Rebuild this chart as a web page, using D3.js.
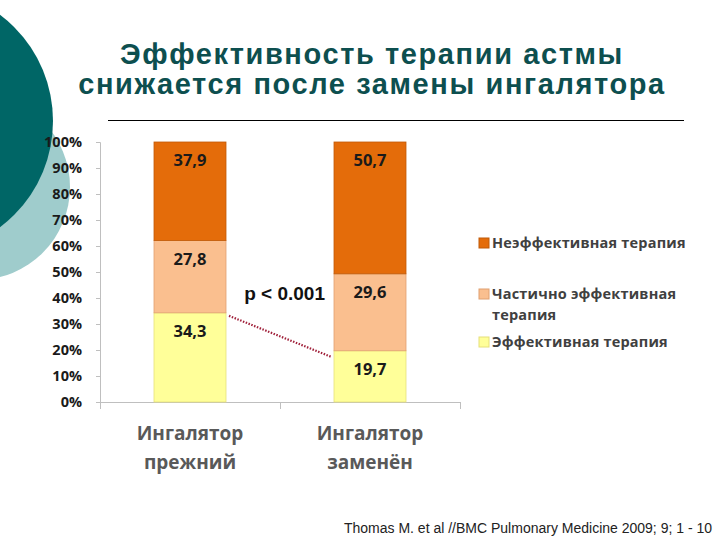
<!DOCTYPE html>
<html>
<head>
<meta charset="utf-8">
<script src="https://cdn.jsdelivr.net/npm/d3@7"></script>
<style>
  body { margin: 0; background: #fff; }
  svg { display: block; }
  .tick text { font-family: "Open Sans", "Noto Sans", sans-serif; font-weight: bold; }
</style>
</head>
<body>
<svg id="chart" width="720" height="540"></svg>
<script>
// Chart data
var categories = ['Ингалятор прежний', 'Ингалятор заменён'];
var categoryLines = [['Ингалятор', 'прежний'], ['Ингалятор', 'заменён']];
var seriesNames = ['Эффективная терапия', 'Частично эффективная терапия', 'Неэффективная терапия'];
var effective = [34.3, 19.7];
var partial = [27.8, 29.6];
var ineffective = [37.9, 50.7];
var yTicks = [0, 10, 20, 30, 40, 50, 60, 70, 80, 90, 100];

var colors = ['#ffff99', '#fabf8f', '#e46c0a'],
    strokes = ['#e6e07a', '#e0a070', '#c05a08'];

var svg = d3.select('#chart');

// Decorative circles at the left
svg.append('circle')
    .attr('cx', -23).attr('cy', 187).attr('r', 93)
    .style('fill', '#9fcccc');
svg.append('circle')
    .attr('cx', -80).attr('cy', 121).attr('r', 133)
    .style('fill', '#006666');

// Title
var title = svg.append('text')
    .attr('text-anchor', 'middle')
    .style('font-family', '"Liberation Sans", Arial, sans-serif')
    .style('font-weight', 'bold')
    .style('font-size', '29px')
    .style('letter-spacing', '1.6px')
    .style('fill', '#0d4f4f');
title.append('tspan').attr('x', 372).attr('y', 64).text('Эффективность терапии астмы');
title.append('tspan').attr('x', 372).attr('y', 94).text('снижается после замены ингалятора');

svg.append('line')
    .attr('x1', 108).attr('x2', 684)
    .attr('y1', 120.5).attr('y2', 120.5)
    .style('stroke', '#000').style('stroke-width', 1);

// Scales
var x = d3.scaleBand()
    .domain(categories)
    .range([100, 460])
    .paddingInner(0.6)
    .paddingOuter(0.3);

var y = d3.scaleLinear()
    .domain([0, 100])
    .range([402, 142]);

// Y axis
var yAxis = svg.append('g')
    .attr('transform', 'translate(100,0)')
    .call(d3.axisLeft(y).tickValues(yTicks).tickSize(4).tickPadding(14)
      .tickFormat(function(d){ return d + '%'; }));
yAxis.select('.domain').style('stroke', '#bfbfbf');
yAxis.selectAll('.tick line').style('stroke', '#bfbfbf');
yAxis.selectAll('.tick text').style('font-size', '14.5px').style('fill', '#1a1a1a');

// X axis baseline with ticks at band edges
var edges = [100, 280, 460];
svg.append('line')
    .attr('x1', 100).attr('x2', 460)
    .attr('y1', 402.5).attr('y2', 402.5)
    .style('stroke', '#bfbfbf');
svg.selectAll('line.xtick')
    .data(edges)
  .enter().append('line')
    .attr('class', 'xtick')
    .attr('x1', function(d){ return d + 0.5; })
    .attr('x2', function(d){ return d + 0.5; })
    .attr('y1', 402).attr('y2', 409)
    .style('stroke', '#bfbfbf');

// Stacked data
var rows = categories.map(function(c, i) {
  return { cat: c, s0: effective[i], s1: partial[i], s2: ineffective[i] };
});
var stack = d3.stack().keys(['s0', 's1', 's2']);
var layers = stack(rows);

var layerG = svg.selectAll('g.layer')
    .data(layers)
  .enter().append('g')
    .attr('class', 'layer');

layerG.selectAll('rect')
    .data(function(d, i){ return d.map(function(p){ return { p: p, i: i }; }); })
  .enter().append('rect')
    .attr('x', function(d){ return x(d.p.data.cat); })
    .attr('width', x.bandwidth())
    .attr('y', function(d){ return y(d.p[1]); })
    .attr('height', function(d){ return y(d.p[0]) - y(d.p[1]); })
    .style('fill', function(d){ return colors[d.i]; })
    .style('stroke', function(d){ return strokes[d.i]; })
    .style('stroke-width', 0.8);

// Data labels near top of each segment
layerG.selectAll('text')
    .data(function(d, i){ return d.map(function(p){ return { p: p, i: i }; }); })
  .enter().append('text')
    .attr('text-anchor', 'middle')
    .attr('x', function(d){ return x(d.p.data.cat) + x.bandwidth() / 2; })
    .attr('y', function(d){ return y(d.p[1]) + 24; })
    .style('font-family', '"Open Sans", "Noto Sans", sans-serif')
    .style('font-weight', 'bold')
    .style('font-size', '16.5px')
    .style('fill', '#1a1a1a')
    .text(function(d){ return (d.p[1] - d.p[0]).toFixed(1).replace('.', ','); });

// Category labels
categoryLines.forEach(function(lines, i) {
  var t = svg.append('text')
      .attr('text-anchor', 'middle')
      .style('font-family', '"Open Sans", "Noto Sans", sans-serif')
      .style('font-weight', 'bold')
      .style('font-size', '19px')
      .style('fill', '#595959');
  lines.forEach(function(l, j) {
    t.append('tspan')
      .attr('x', x(categories[i]) + x.bandwidth() / 2)
      .attr('y', 440 + j * 29)
      .text(l);
  });
});

// Significance line between the effective-therapy tops
var x0 = x(categories[0]) + x.bandwidth(),
    x1 = x(categories[1]);
svg.append('line')
    .attr('x1', x0 + 3).attr('y1', y(effective[0]) + 3)
    .attr('x2', x1 - 3).attr('y2', y(effective[1]) + 6)
    .style('stroke', '#a0203a')
    .style('stroke-width', 2.2)
    .style('stroke-dasharray', '1.5,1.5');

svg.append('text')
    .attr('x', 325).attr('y', 300)
    .attr('text-anchor', 'end')
    .style('font-family', '"Liberation Sans", Arial, sans-serif')
    .style('font-weight', 'bold')
    .style('font-size', '19px')
    .style('fill', '#111')
    .text('p < 0.001');

// Legend
var legendItems = [
  { name: ['Неэффективная терапия'], color: colors[2], stroke: strokes[2], y: 243 },
  { name: ['Частично эффективная', 'терапия'], color: colors[1], stroke: strokes[1], y: 294 },
  { name: ['Эффективная терапия'], color: colors[0], stroke: strokes[0], y: 342 }
];
var legend = svg.selectAll('g.legend')
    .data(legendItems)
  .enter().append('g')
    .attr('class', 'legend')
    .attr('transform', function(d){ return 'translate(479,' + d.y + ')'; });
legend.append('rect')
    .attr('x', 0).attr('y', -5)
    .attr('width', 10).attr('height', 10)
    .style('fill', function(d){ return d.color; })
    .style('stroke', function(d){ return d.stroke; });
legend.append('text')
    .style('font-family', '"Open Sans", "Noto Sans", sans-serif')
    .style('font-weight', 'bold')
    .style('font-size', '14.5px')
    .style('letter-spacing', '0.2px')
    .style('fill', '#404040')
    .each(function(d) {
      var t = d3.select(this);
      d.name.forEach(function(n, j) {
        t.append('tspan').attr('x', 13).attr('y', 5 + j * 21).text(n);
      });
    });

// Source note
svg.append('text')
    .attr('x', 712).attr('y', 533)
    .attr('text-anchor', 'end')
    .style('font-family', '"Liberation Sans", Arial, sans-serif')
    .style('font-size', '14px')
    .style('fill', '#222')
    .text('Thomas M. et al //BMC Pulmonary Medicine 2009; 9; 1 - 10');
</script>
</body>
</html>
